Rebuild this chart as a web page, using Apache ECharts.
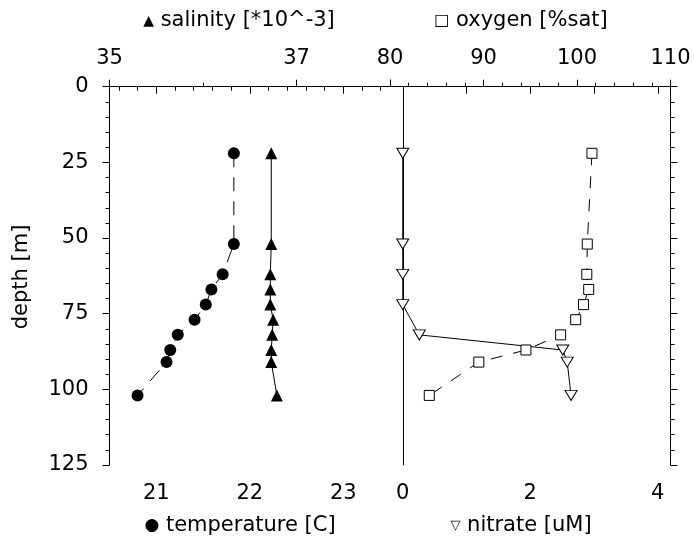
<!DOCTYPE html>
<html>
<head>
<meta charset="utf-8">
<script src="https://cdn.jsdelivr.net/npm/echarts@6/dist/echarts.min.js"></script>
<style>html,body{margin:0;padding:0;background:#fff}#c{width:694px;height:551px}</style>
</head>
<body>
<div id="c"></div>
<script>
// ---- data ----
const depths = [22, 52, 62, 67, 72, 77, 82, 87, 91, 102];
const temperature = [21.83, 21.83, 21.71, 21.59, 21.53, 21.41, 21.23, 21.15, 21.11, 20.80];
const salinity = [36.73, 36.73, 36.72, 36.72, 36.72, 36.75, 36.74, 36.73, 36.73, 36.79];
const oxygen = [101.6, 101.1, 101.05, 101.25, 100.7, 99.86, 98.25, 94.54, 89.5, 84.2];
const nitrateDepths = [22, 52, 62, 72, 82, 87, 91, 102];
const nitrate = [0.0, 0.0, 0.0, 0.0, 0.26, 2.51, 2.58, 2.64];

// ---- tick labels / tick positions ----
const tempLabels = [21, 22, 23];
const tempMinor = [20.6, 20.8, 21.2, 21.4, 21.6, 21.8, 22.2, 22.4, 22.6, 22.8, 23.2, 23.4];
const salLabels = [35, 37];
const salMajorTicks = [35, 37, 38];
const salMinorTicks = [36];
const nitrateLabels = [0, 2, 4];
const nitrateTicks = [0, 1, 2, 3, 4];
const oxygenLabels = [80, 90, 100, 110];
const oxygenMinor = [82, 84, 86, 88, 92, 94, 96, 98, 102, 104, 106, 108];
const depthLabels = [0, 25, 50, 75, 100, 125];
const depthMinor = [5, 10, 15, 20, 30, 35, 40, 45, 55, 60, 65, 70, 80, 85, 90, 95, 105, 110, 115, 120];

const FONT = '"DejaVu Sans", sans-serif';
const BLACK = '#000';
const FS = 21;

const pair = (xs, ys) => xs.map((v, i) => [v, ys[i]]);

const chart = echarts.init(document.getElementById('c'), null, {renderer: 'canvas'});

const G0 = {left: 109.5, top: 86.7, width: 280.5, height: 378.3};
const G1 = {left: 390, top: 86.7, width: 280.5, height: 378.3};

const lbl = (extra) => Object.assign({color: BLACK, fontSize: FS, fontFamily: FONT}, extra);
const line = {show: true, lineStyle: {color: BLACK, width: 1}};
const noLine = {show: false};
const ticks = (vals, len) => ({show: true, customValues: vals, length: len, lineStyle: {color: BLACK, width: 1}});

function xAx(grid, pos, min, max, tickVals, tickLen, labelVals, showLine) {
  return {
    gridIndex: grid, type: 'value', position: pos, min: min, max: max,
    axisLine: showLine ? line : noLine, splitLine: {show: false},
    axisTick: ticks(tickVals, tickLen),
    axisLabel: labelVals ? lbl({customValues: labelVals, margin: 18}) : {show: false}
  };
}
function yAx(grid, pos, tickVals, tickLen, labelVals, showLine) {
  return {
    gridIndex: grid, type: 'value', position: pos, inverse: true, min: 0, max: 125,
    axisLine: showLine ? line : noLine, splitLine: {show: false},
    axisTick: tickVals ? ticks(tickVals, tickLen) : {show: false},
    axisLabel: labelVals ? lbl({customValues: labelVals, margin: 21}) : {show: false}
  };
}

const option = {
  animation: false,
  backgroundColor: '#fff',
  grid: [G0, G1],
  xAxis: [
    xAx(0, 'bottom', 20.5, 23.5, tempLabels, 7, tempLabels, true),     // 0 temperature
    xAx(0, 'bottom', 20.5, 23.5, tempMinor, 4, null, false),           // 1 temperature minor
    xAx(0, 'top', 35, 38, salMajorTicks, 7, salLabels, true),          // 2 salinity
    xAx(0, 'top', 35, 38, salMinorTicks, 4, null, false),              // 3 salinity minor
    xAx(1, 'bottom', -0.2, 4.2, nitrateTicks, 7, nitrateLabels, true), // 4 nitrate
    xAx(1, 'top', 80, 110, oxygenLabels, 7, oxygenLabels, true),       // 5 oxygen
    xAx(1, 'top', 80, 110, oxygenMinor, 4, null, false)                // 6 oxygen minor
  ],
  yAxis: [
    yAx(0, 'left', depthLabels, 7, depthLabels, true),   // 0 depth
    yAx(1, 'left', null, 0, null, true),                 // 1 divider
    yAx(1, 'right', depthLabels, 7, null, true),         // 2 right border
    yAx(0, 'left', depthMinor, 4, null, false),          // 3 depth minor (left)
    yAx(1, 'right', depthMinor, 4, null, false)          // 4 depth minor (right)
  ],
  series: [
    {
      name: 'temperature', type: 'line', xAxisIndex: 0, yAxisIndex: 0,
      data: pair(temperature, depths),
      symbol: 'circle', symbolSize: 12,
      itemStyle: {color: BLACK},
      lineStyle: {color: BLACK, width: 1, type: [14, 10]}
    },
    {
      name: 'salinity', type: 'line', xAxisIndex: 2, yAxisIndex: 0,
      data: pair(salinity, depths),
      symbol: 'triangle', symbolSize: 12,
      itemStyle: {color: BLACK},
      lineStyle: {color: BLACK, width: 1}
    },
    {
      name: 'oxygen', type: 'line', xAxisIndex: 5, yAxisIndex: 1,
      data: pair(oxygen, depths),
      symbol: 'rect', symbolSize: 10,
      itemStyle: {color: '#fff', borderColor: BLACK, borderWidth: 1},
      lineStyle: {color: BLACK, width: 1, type: [12, 11]}
    },
    {
      name: 'nitrate', type: 'line', xAxisIndex: 4, yAxisIndex: 1,
      data: pair(nitrate, nitrateDepths),
      symbol: 'path://M0,0L10,0L5,9Z', symbolSize: [12, 10],
      itemStyle: {color: '#fff', borderColor: BLACK, borderWidth: 1},
      lineStyle: {color: BLACK, width: 1}
    }
  ],
  graphic: [
    {type: 'text', x: 239, y: 21, style: {text: '{m|▲} salinity [*10^-3]', font: FS + 'px ' + FONT, fill: BLACK, align: 'center', verticalAlign: 'middle', rich: {m: {fontSize: 14, fontFamily: FONT}}}},
    {type: 'text', x: 521, y: 21, style: {text: '{m|□} oxygen [%sat]', font: FS + 'px ' + FONT, fill: BLACK, align: 'center', verticalAlign: 'middle', rich: {m: {fontSize: 16, fontFamily: FONT}}}},
    {type: 'text', x: 240, y: 526, style: {text: '{m|●} temperature [C]', font: FS + 'px ' + FONT, fill: BLACK, align: 'center', verticalAlign: 'middle', rich: {m: {fontSize: 17, fontFamily: FONT}}}},
    {type: 'text', x: 521, y: 526, style: {text: '{m|▽} nitrate [uM]', font: FS + 'px ' + FONT, fill: BLACK, align: 'center', verticalAlign: 'middle', rich: {m: {fontSize: 13, fontFamily: FONT}}}},
    {type: 'text', x: 22, y: 277, rotation: Math.PI / 2, style: {text: 'depth [m]', font: FS + 'px ' + FONT, fill: BLACK, align: 'center', verticalAlign: 'middle'}}
  ]
};
chart.setOption(option);
</script>
</body>
</html>
